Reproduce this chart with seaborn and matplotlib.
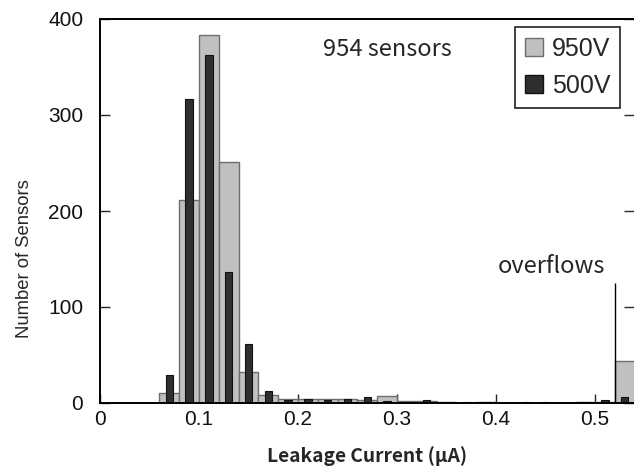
import numpy as np
import pandas as pd
import matplotlib
matplotlib.use("Agg")
import matplotlib.pyplot as plt
from matplotlib.patches import Patch
import seaborn as sns

# histogram bins (uA), last bin holds the overflows
bin_edges = [0.06, 0.08, 0.10, 0.12, 0.14, 0.16, 0.18, 0.20, 0.22, 0.24, 0.26,
             0.28, 0.30, 0.32, 0.34, 0.36, 0.38, 0.40, 0.42, 0.44, 0.46, 0.48,
             0.50, 0.52, 0.54]
counts_950v = [10, 211, 383, 251, 32, 8, 4, 4, 4, 4, 3, 7, 2, 2, 1, 0, 1, 0,
               0, 0, 0, 1, 1, 44]
counts_500v = [29, 317, 363, 136, 61, 13, 3, 4, 3, 4, 6, 2, 1, 3, 0, 1, 1, 0,
               1, 1, 0, 1, 3, 6]
overflow_start = 0.52
overflow_line_top = 125
x_ticks = [0, 0.1, 0.2, 0.3, 0.4, 0.5]
x_tick_labels = ["0", "0.1", "0.2", "0.3", "0.4", "0.5"]
y_ticks = [0, 100, 200, 300, 400]
series_labels = ["950V", "500V"]

gray_fill = "#c0c0c0"
gray_edge = "#6e6e6e"
dark_fill = "#2f2f2f"
dark_edge = "#111111"

sns.set_style("white")
plt.rcParams["font.family"] = ["Liberation Sans", "DejaVu Sans"]
gothic = ["Noto Sans CJK JP", "DejaVu Sans"]

centers = [(a + b) / 2 for a, b in zip(bin_edges[:-1], bin_edges[1:])]
df = pd.DataFrame({"current": centers, "n950": counts_950v, "n500": counts_500v})

fig = plt.figure(figsize=(6.34, 4.66), dpi=100)
ax = fig.add_axes([100 / 634, 1 - 403 / 466, 534 / 634, 384 / 466])

sns.histplot(data=df, x="current", weights="n950", bins=bin_edges, ax=ax,
             color=gray_fill, edgecolor=gray_edge, linewidth=1.0, alpha=1)
sns.histplot(data=df, x="current", weights="n500", bins=bin_edges, ax=ax,
             shrink=0.38, color=dark_fill, edgecolor=dark_edge, linewidth=0.8,
             alpha=1)

# separator before the overflow bin
ax.vlines(overflow_start, 0, overflow_line_top, color="black", lw=1.0, zorder=3)

ax.set_xlim(0, 0.5394)
ax.set_ylim(0, 400)
ax.set_xticks(x_ticks)
ax.set_xticklabels(x_tick_labels)
ax.set_yticks(y_ticks)

for s in ["left", "top", "bottom"]:
    ax.spines[s].set_visible(True)
    ax.spines[s].set_color("black")
    ax.spines[s].set_linewidth(1.4)
ax.spines["right"].set_visible(False)

ax.tick_params(axis="y", direction="in", length=7, width=1.0, left=True,
               right=True, labelsize=15, pad=12)
ax.tick_params(axis="x", direction="in", length=6.5, width=1.0, bottom=True,
               labelsize=15, pad=5)
for t in ax.get_xticklabels() + ax.get_yticklabels():
    t.set_color("#111111")

ax.set_ylabel("Number of Sensors", fontsize=13.3)
ax.yaxis.set_label_coords(-0.125, 0.375)
ax.set_xlabel("Leakage Current (μA)", fontsize=13.8, fontweight="bold",
              family=gothic, labelpad=12)

ax.text(0.2905, 368, "954 sensors", fontsize=17, family=gothic,
        ha="center", va="center")
ax.text(0.4565, 142, "overflows", fontsize=17, family=gothic,
        ha="center", va="center")

handles = [Patch(facecolor=gray_fill, edgecolor=gray_edge, lw=1.0),
           Patch(facecolor=dark_fill, edgecolor=dark_edge, lw=1.0)]
leg = ax.legend(handles, series_labels, loc="upper right",
                bbox_to_anchor=(0.974, 0.979), borderaxespad=0, fontsize=18,
                frameon=True, fancybox=False, handlelength=0.72,
                handleheight=0.72, handletextpad=0.35, labelspacing=0.5,
                borderpad=0.4)
leg.get_frame().set_edgecolor("black")
leg.get_frame().set_linewidth(1.3)

fig.savefig("out.png", dpi=100)
